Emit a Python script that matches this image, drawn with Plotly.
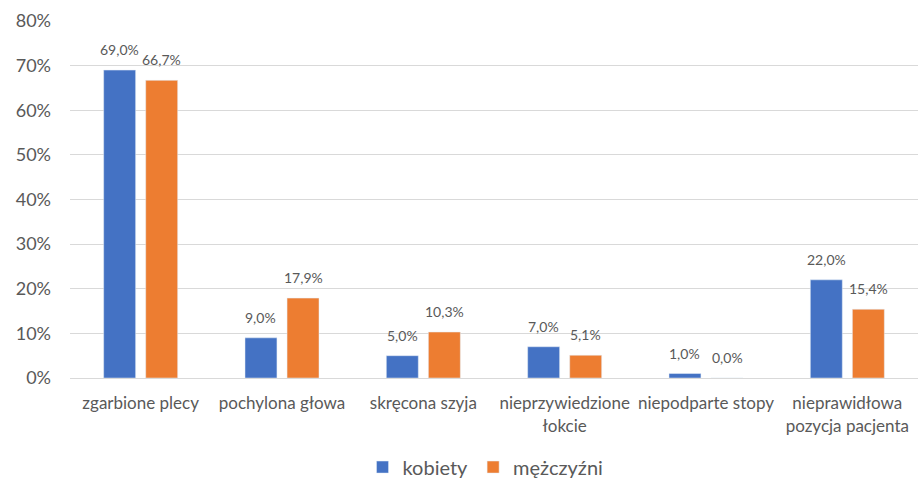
import plotly.graph_objects as go

categories = ["zgarbione plecy", "pochylona głowa", "skręcona szyja",
              "nieprzywiedzione<br>łokcie", "niepodparte stopy",
              "nieprawidłowa<br>pozycja pacjenta"]
kobiety = [69.0, 9.0, 5.0, 7.0, 1.0, 22.0]
mezczyzni = [66.7, 17.9, 10.3, 5.1, 0.0, 15.4]
y_ticks = [0, 10, 20, 30, 40, 50, 60, 70, 80]

FONT = "Lato, sans-serif"
GRAY = "#595959"
BAR_GAP = 0.405
GROUP_GAP = 0.24
MARGIN_L, MARGIN_R = 70, 3
WIDTH = 921


def fmt(v):
    return f"{v:.1f}%".replace(".", ",")


fig = go.Figure()
series = [("kobiety", kobiety, "#4472C4"), ("mężczyźni", mezczyzni, "#ED7D31")]
for name, vals, color in series:
    fig.add_trace(go.Bar(name=name, x=categories, y=vals, marker_color=color))

# value labels above each bar, shifted to the bar's slot within its group
cat_px = (WIDTH - MARGIN_L - MARGIN_R) / len(categories)
slot_px = cat_px * (1 - BAR_GAP) / len(series)
for i, (name, vals, color) in enumerate(series):
    shift = (i - (len(series) - 1) / 2) * slot_px
    for c, v in zip(categories, vals):
        fig.add_annotation(
            x=c, y=v, text=fmt(v), showarrow=False,
            xanchor="center", yanchor="bottom",
            xshift=shift, yshift=10,
            font=dict(size=14, color=GRAY, family=FONT),
        )

fig.update_layout(
    width=WIDTH, height=483,
    margin=dict(l=MARGIN_L, r=MARGIN_R, t=21, b=105, autoexpand=False),
    paper_bgcolor="white", plot_bgcolor="white",
    barmode="group", bargap=BAR_GAP, bargroupgap=GROUP_GAP,
    font=dict(family=FONT, color=GRAY, size=17),
    showlegend=True,
    legend=dict(orientation="h", x=0.49, xanchor="center",
                yref="container", y=0.033, yanchor="middle",
                font=dict(size=20, color=GRAY),
                itemwidth=30, traceorder="normal"),
)
fig.update_xaxes(
    tickfont=dict(size=17, color=GRAY),
    showline=True, linecolor="#D9D9D9", linewidth=1,
    ticks="", ticklabelstandoff=10, automargin=False,
)
fig.update_yaxes(
    range=[0, 80], tickvals=y_ticks,
    ticktext=[f"{t}%" for t in y_ticks],
    tickfont=dict(size=18, color=GRAY),
    showgrid=True, gridcolor="#D9D9D9", gridwidth=1,
    zeroline=False, ticks="", ticklabelstandoff=18, automargin=False,
)

fig.write_html("out.html")
